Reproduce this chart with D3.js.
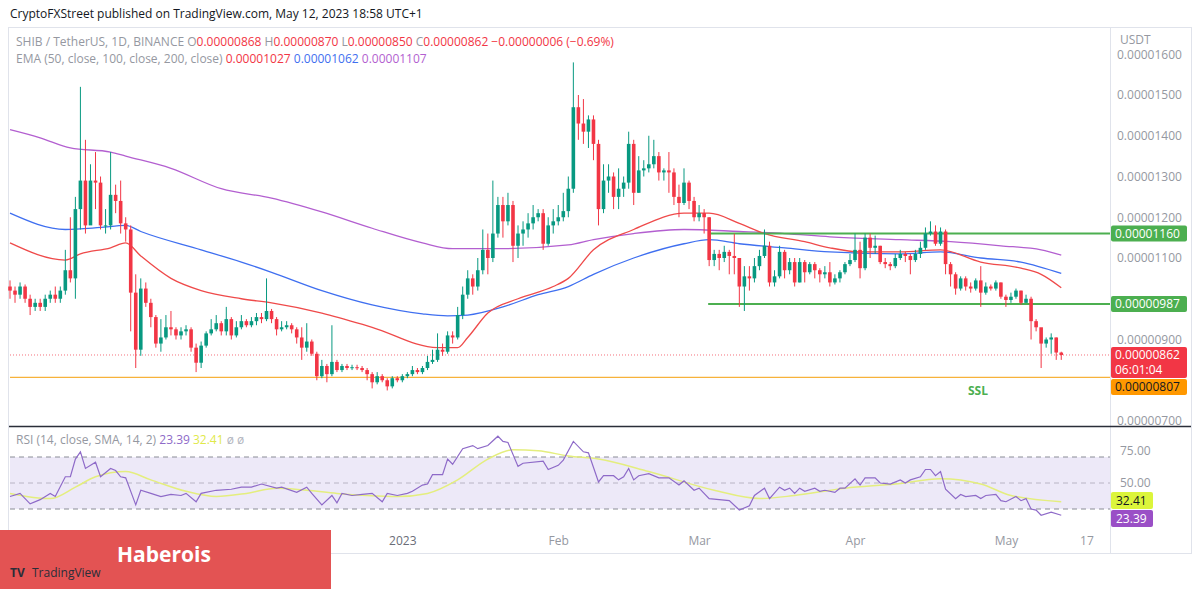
<!DOCTYPE html>
<html>
<head>
<meta charset="utf-8">
<script src="https://cdnjs.cloudflare.com/ajax/libs/d3/7.8.5/d3.min.js"></script>
<style>
  body { margin: 0; background: #fff; font-family: "Open Sans", "DejaVu Sans", sans-serif; }
  svg text { font-family: "Open Sans", "DejaVu Sans", sans-serif; }
</style>
</head>
<body>
<script>
// SHIB/USDT daily, prices in units of 0.000001 USDT, first candle 2022-10-15
var firstOpen = 10.3;
var closes = [10.2,10.1,10.3,10.0,9.8,9.9,9.8,10.0,10.1,10.0,10.2,10.7,10.5,12.2,12.9,11.8,12.9,12.85,11.8,11.8,
  12.55,12.4,11.85,11.7,10.15,8.75,10.25,9.9,9.55,8.9,9.05,9.3,9.25,9.1,9.2,9.25,8.8,8.43,8.85,9.15,
  9.25,9.4,9.2,9.5,9.1,9.3,9.45,9.35,9.45,9.55,9.5,9.7,9.5,9.25,9.3,9.35,9.25,9.05,8.8,8.95,
  8.65,8.1,8.35,8.15,8.45,8.25,8.35,8.3,8.32,8.3,8.25,8.15,7.95,8.1,8.0,7.85,8.05,8.0,8.1,8.15,
  8.25,8.2,8.3,8.45,8.5,8.75,8.7,9.1,9.05,9.6,10.1,10.5,10.3,10.7,11.2,11.0,11.6,12.3,11.9,12.3,
  11.3,11.6,11.7,11.85,12.0,12.1,11.35,11.8,11.9,12.0,12.15,12.7,14.7,14.3,14.1,14.4,13.8,12.2,12.9,13.0,
  12.5,12.7,12.85,13.8,12.6,13.15,13.2,13.3,13.5,13.1,13.15,13.1,12.5,12.35,12.85,12.4,12.0,12.1,12.0,10.95,
  11.1,11.0,11.15,11.05,11.0,10.3,10.55,10.5,10.8,11.05,11.3,10.4,10.55,11.15,10.7,10.9,10.4,10.9,10.65,10.85,
  10.7,10.6,10.65,10.4,10.5,10.65,10.85,10.95,11.2,10.75,11.5,11.25,11.3,10.9,10.85,10.8,11.0,11.1,11.05,10.95,
  11.1,11.25,11.6,11.65,11.35,11.65,10.85,10.6,10.25,10.5,10.3,10.25,10.45,10.15,10.3,10.25,10.4,10.05,9.97,10.05,
  10.2,9.9,10.0,9.45,9.3,8.9,9.0,9.05,8.68,8.62];
var highs = [10.45,10.3,10.4,10.35,10.1,10.0,10.0,10.1,10.2,10.3,10.3,11.2,12.0,12.5,15.2,13.9,13.3,13.6,13.0,12.2,
  13.6,12.8,12.9,12.0,11.8,10.6,10.5,10.4,10.0,9.6,9.5,9.6,9.7,9.3,9.3,9.35,9.3,8.9,8.95,9.2,
  9.5,9.6,9.45,9.8,9.55,9.45,9.6,9.5,9.55,9.65,9.65,10.5,9.75,9.55,9.45,9.45,9.4,9.3,9.3,9.4,
  9.0,8.7,8.5,8.4,9.35,8.5,8.4,8.4,8.38,8.38,8.35,8.3,8.2,8.2,8.15,8.05,8.1,8.1,8.15,8.2,
  8.35,8.3,8.35,8.6,8.75,9.15,8.9,9.2,9.2,9.8,10.3,10.7,10.6,11.0,11.7,11.6,12.9,12.5,12.5,12.6,
  12.4,11.8,11.9,12.1,12.3,12.2,12.2,12.0,12.2,12.3,12.6,13.0,15.8,15.0,14.9,14.5,14.5,13.9,13.3,13.3,
  13.1,13.2,13.0,14.1,13.9,13.5,13.4,14.0,13.9,13.6,13.2,13.6,13.2,12.8,13.2,12.9,12.5,12.3,12.2,12.0,
  11.2,11.2,11.3,11.2,11.6,11.0,10.8,10.8,11.0,11.2,11.7,11.4,10.7,11.3,11.2,11.0,11.0,11.0,10.95,10.9,
  10.9,10.75,10.8,10.9,10.6,10.7,10.9,11.1,11.6,11.4,11.6,11.6,11.55,11.3,11.0,10.9,11.1,11.2,11.15,11.1,
  11.2,11.4,11.75,11.9,11.8,11.75,11.7,10.9,10.65,10.55,10.55,10.4,10.5,10.8,10.4,10.35,10.45,10.4,10.1,10.15,
  10.25,10.2,10.1,10.05,9.5,9.25,9.05,9.15,9.05,8.7];
var lows = [10.0,9.9,10.0,9.9,9.6,9.7,9.7,9.7,9.9,9.9,9.9,10.1,10.4,10.0,11.7,11.6,11.9,12.2,11.7,11.6,
  11.7,12.1,11.6,11.4,9.2,8.3,8.6,9.8,9.3,8.8,8.7,9.0,9.1,9.0,9.0,9.1,8.7,8.2,8.3,8.8,
  9.1,9.2,9.1,9.1,9.0,9.05,9.25,9.3,9.3,9.35,9.4,9.45,9.4,9.1,9.2,9.25,9.15,8.9,8.5,8.7,
  8.6,8.0,8.05,7.95,8.1,8.2,8.2,8.25,8.25,8.25,8.2,8.0,7.8,7.9,7.95,7.75,7.8,7.95,7.95,8.05,
  8.1,8.15,8.15,8.25,8.4,8.45,8.6,8.65,8.9,9.0,9.5,10.0,10.1,10.2,10.6,10.6,10.9,11.5,11.5,11.8,
  10.9,11.0,11.3,11.5,11.7,11.9,11.2,11.3,11.6,11.8,11.9,12.0,12.6,13.9,13.8,13.7,13.4,11.8,12.1,12.6,
  12.2,12.2,12.5,12.7,12.3,12.6,13.0,13.1,13.2,12.9,12.9,12.6,12.3,12.0,12.3,12.2,11.9,11.9,11.6,10.8,
  10.8,10.7,10.9,10.6,10.6,9.8,9.7,10.2,10.4,10.7,11.0,10.3,10.3,10.5,10.5,10.6,10.3,10.4,10.4,10.6,
  10.5,10.4,10.5,10.3,10.35,10.4,10.6,10.8,10.9,10.5,10.7,11.0,11.1,10.85,10.75,10.7,10.75,10.95,10.9,10.6,
  10.9,11.0,11.2,11.55,11.3,11.3,10.6,10.3,10.1,10.2,10.2,10.15,10.2,9.8,10.1,10.2,10.2,10.0,9.8,9.9,
  10.0,9.85,9.9,9.0,9.2,8.3,8.8,8.65,8.5,8.5];

// EMA curves: [day index, value]
var ema50 = [[0,11.37],[11,10.95],[14,11.1],[20,11.25],[23,11.37],[26,11.05],[32,10.5],[38,10.2],[46,10.0],[52,9.9],[62,9.65],[72,9.3],[85,8.8],[89,8.8],[91,9.05],[95,9.65],[101,10.0],[108,10.3],[111,10.5],[116,11.2],[124,11.7],[134,12.1],[139,12.1],[145,11.85],[150,11.6],[158,11.4],[163,11.25],[169,11.15],[177,11.15],[185,11.2],[193,10.9],[201,10.75],[205,10.6],[209,10.27]];
var ema100 = [[0,12.1],[11,11.7],[18,11.75],[23,11.8],[26,11.65],[38,11.2],[46,10.9],[52,10.65],[62,10.2],[72,9.85],[82,9.63],[87,9.58],[91,9.6],[98,9.8],[105,10.1],[111,10.3],[116,10.6],[124,11.0],[134,11.35],[139,11.45],[145,11.35],[154,11.25],[163,11.15],[177,11.1],[185,11.15],[193,11.0],[201,10.9],[209,10.62]];
var ema200 = [[0,14.15],[6,13.95],[12,13.7],[20,13.6],[23,13.5],[32,13.2],[42,12.7],[52,12.47],[62,12.13],[72,11.73],[82,11.37],[88,11.23],[98,11.23],[111,11.32],[116,11.45],[124,11.6],[134,11.7],[145,11.65],[154,11.6],[163,11.52],[177,11.45],[187,11.4],[197,11.3],[205,11.2],[209,11.07]];

var rsi = [[0,37],[2,40],[4,30],[6,34],[8,40],[9,37],[11,56],[12,56],[13,73],[14,80],[15,64],[17,70],[18,56],[20,64],[21,62],[22,56],[23,55],[25,29],[26,43],[28,40],[30,37],[32,39],[34,38],[35,40],[37,32],[38,40],[41,43],[44,44],[46,46],[48,46],[50,49],[53,45],[54,46],[57,41],[59,46],[60,40],[62,29],[64,38],[65,31],[66,40],[68,38],[70,39],[72,40],[74,32],[75,40],[77,38],[79,40],[80,42],[82,48],[83,49],[84,58],[86,58],[87,73],[88,68],[90,83],[92,86],[93,83],[95,86],[97,95],[98,90],[99,89],[101,66],[102,69],[106,71],[107,63],[109,67],[110,72],[112,90],[114,80],[115,79],[117,51],[118,57],[120,57],[121,53],[122,56],[123,64],[124,53],[125,57],[127,59],[129,55],[131,55],[133,48],[134,52],[136,43],[137,45],[139,35],[141,34],[143,33],[145,24],[147,28],[148,38],[150,45],[151,35],[153,46],[154,43],[155,45],[156,40],[157,45],[158,42],[160,45],[161,42],[162,43],[164,41],[165,45],[166,45],[168,54],[169,48],[170,55],[172,55],[173,50],[175,49],[177,53],[178,50],[179,53],[181,56],[182,63],[183,63],[184,57],[185,61],[186,44],[188,35],[189,39],[190,37],[192,38],[193,35],[194,38],[196,39],[197,33],[198,32],[200,37],[201,33],[202,35],[203,25],[204,24],[205,19],[207,22],[209,19]];
var rsiSma = [[0,40],[8,35],[13,46],[17,56],[23,61],[28,53],[35,42],[41,37],[47,40],[53,45],[59,43],[65,40],[71,38],[77,37],[83,40],[89,53],[95,73],[100,82],[105,81],[111,76],[117,73],[127,61],[140,43],[149,35],[156,38],[166,45],[176,49],[185,54],[193,49],[199,38],[209,32]];

// ticks hidden behind price tags are left out
var priceTicks = [7, 9, 11, 12, 13, 14, 15, 16];
var rsiLevels = [75, 50, 25];
var timeTicks = [new Date(2022,10,1), new Date(2022,11,1), new Date(2023,0,1), new Date(2023,1,1),
  new Date(2023,2,1), new Date(2023,3,1), new Date(2023,4,1), new Date(2023,4,17)];
var resistance = 11.60, support = 9.87, ssl = 8.07, lastPrice = 8.62;

var W = 1200, H = 589;
var up = "#089981", down = "#f23645";
var start = new Date(2022,9,15);

var svg = d3.select("body").append("svg").attr("width", W).attr("height", H);

var x = d3.scaleTime().domain([start, d3.timeDay.offset(start, 214)]).range([10, 1086.4]);
var y = d3.scaleLinear().domain([7, 15]).range([421, 95]);
var yr = d3.scaleLinear().domain([0, 100]).range([535, 431]);
var dx = function(i) { return x(d3.timeDay.offset(start, i)); };
var fmt = function(v) { return (v * 1e-6).toFixed(8); };

// title + frame
svg.append("text").attr("x", 10).attr("y", 18).attr("font-size", 12).attr("fill", "#131722")
  .text("CryptoFXStreet published on TradingView.com, May 12, 2023 18:58 UTC+1");
svg.append("rect").attr("x", 8.5).attr("y", 27.5).attr("width", 1183).attr("height", 526)
  .attr("fill", "none").attr("stroke", "#e0e3eb");
svg.append("line").attr("x1", 1110.5).attr("x2", 1110.5).attr("y1", 28).attr("y2", 553).attr("stroke", "#e0e3eb");
svg.append("line").attr("x1", 9).attr("x2", 1191).attr("y1", 426.5).attr("y2", 426.5).attr("stroke", "#2a2e39").attr("stroke-width", 1.5);

// price axis
var pa = svg.append("g").attr("transform", "translate(1117,0)")
  .call(d3.axisRight(y).tickValues(priceTicks).tickFormat(fmt).tickSize(0));
pa.select(".domain").remove();
pa.selectAll("text").attr("x", 0).attr("font-size", 12).attr("fill", "#9598a1");
svg.append("rect").attr("x", 1112).attr("y", 28).attr("width", 78).attr("height", 22).attr("fill", "#fff");
svg.append("text").attr("x", 1120).attr("y", 44).attr("font-size", 12).attr("fill", "#9598a1").text("USDT");

// EMAs
var lineOf = function(sc) {
  return d3.line().x(function(d) { return dx(d[0]); }).y(function(d) { return sc(d[1]); }).curve(d3.curveMonotoneX);
};
[[ema200, "#b35fd0"], [ema100, "#3f6ff0"], [ema50, "#ef4a4a"]].forEach(function(e) {
  svg.append("path").datum(e[0]).attr("d", lineOf(y)).attr("fill", "none").attr("stroke", e[1]).attr("stroke-width", 1.3);
});

// levels
svg.append("line").attr("x1", 10).attr("x2", 1110).attr("y1", y(lastPrice)).attr("y2", y(lastPrice))
  .attr("stroke", down).attr("stroke-dasharray", "1,2").attr("opacity", 0.7);
svg.append("line").attr("x1", 10).attr("x2", 1110).attr("y1", y(ssl)).attr("y2", y(ssl)).attr("stroke", "#f7b23b").attr("stroke-width", 1.3);
[resistance, support].forEach(function(v) {
  svg.append("line").attr("x1", dx(139) - 1).attr("x2", 1110).attr("y1", y(v)).attr("y2", y(v))
    .attr("stroke", "#4caf50").attr("stroke-width", 2);
});
svg.append("text").attr("x", 978).attr("y", 395).attr("text-anchor", "middle").attr("font-size", 12)
  .attr("font-weight", "bold").attr("fill", "#4caf50").text("SSL");

// candles
var candles = closes.map(function(c, i) {
  return { i: i, o: i ? closes[i - 1] : firstOpen, c: c, h: highs[i], l: lows[i] };
});
var cg = svg.append("g").selectAll("g").data(candles).enter().append("g");
cg.append("line").attr("x1", function(d) { return dx(d.i); }).attr("x2", function(d) { return dx(d.i); })
  .attr("y1", function(d) { return y(d.h); }).attr("y2", function(d) { return y(d.l); })
  .attr("stroke", function(d) { return d.c >= d.o ? up : down; });
cg.append("rect").attr("x", function(d) { return dx(d.i) - 1.8; }).attr("width", 3.6)
  .attr("y", function(d) { return y(Math.max(d.o, d.c)); })
  .attr("height", function(d) { return Math.max(1, Math.abs(y(d.o) - y(d.c))); })
  .attr("fill", function(d) { return d.c >= d.o ? up : down; });

// price tags
function tag(v, yy, bg, fg, h, t2) {
  svg.append("rect").attr("x", 1111).attr("y", yy).attr("width", 76).attr("height", h).attr("rx", 2).attr("fill", bg);
  svg.append("text").attr("x", 1115).attr("y", yy + 12).attr("font-size", 12).attr("fill", fg).text(fmt(v));
  if (t2) svg.append("text").attr("x", 1115).attr("y", yy + 27).attr("font-size", 12).attr("fill", fg).text(t2);
}
tag(resistance, y(resistance) - 8, "#4caf50", "#fff", 16);
tag(support, y(support) - 8, "#4caf50", "#fff", 16);
tag(lastPrice, y(lastPrice) - 8, down, "#fff", 31, "06:01:04");
tag(ssl, y(lastPrice) + 24, "#ff9800", "#131722", 16);

// legend
var l1 = svg.append("text").attr("x", 16).attr("y", 46).attr("font-size", 12);
l1.append("tspan").attr("fill", "#9598a1").text("SHIB / TetherUS, 1D, BINANCE  O");
l1.append("tspan").attr("fill", down).text("0.00000868");
l1.append("tspan").attr("fill", "#9598a1").text("  H");
l1.append("tspan").attr("fill", down).text("0.00000870");
l1.append("tspan").attr("fill", "#9598a1").text("  L");
l1.append("tspan").attr("fill", down).text("0.00000850");
l1.append("tspan").attr("fill", "#9598a1").text("  C");
l1.append("tspan").attr("fill", down).text("0.00000862  \u22120.00000006 (\u22120.69%)");
var l2 = svg.append("text").attr("x", 16).attr("y", 63).attr("font-size", 12);
l2.append("tspan").attr("fill", "#9598a1").text("EMA (50, close, 100, close, 200, close)  ");
l2.append("tspan").attr("fill", down).text(fmt(ema50[ema50.length - 1][1]) + "  ");
l2.append("tspan").attr("fill", "#3f6ff0").text(fmt(ema100[ema100.length - 1][1]) + "  ");
l2.append("tspan").attr("fill", "#b35fd0").text(fmt(ema200[ema200.length - 1][1]));

// RSI pane
svg.append("rect").attr("x", 10).attr("width", 1100).attr("y", yr(75)).attr("height", yr(25) - yr(75)).attr("fill", "#ede9f8");
rsiLevels.forEach(function(v) {
  svg.append("line").attr("x1", 10).attr("x2", 1110).attr("y1", yr(v)).attr("y2", yr(v))
    .attr("stroke", v === 50 ? "#b8b4c4" : "#8a8d96").attr("stroke-dasharray", "5,4");
});
var ra = svg.append("g").attr("transform", "translate(1120,0)")
  .call(d3.axisRight(yr).tickValues([75, 50]).tickFormat(function(v) { return v.toFixed(2); }).tickSize(0));
ra.select(".domain").remove();
ra.selectAll("text").attr("x", 0).attr("font-size", 12).attr("fill", "#9598a1")
  .attr("dy", function(d) { return d === 75 ? "-0.2em" : "0.32em"; });
svg.append("path").datum(rsiSma).attr("d", lineOf(yr)).attr("fill", "none").attr("stroke", "#e4ee7e").attr("stroke-width", 1.5);
svg.append("path").datum(rsi).attr("d", d3.line().x(function(d) { return dx(d[0]); }).y(function(d) { return yr(d[1]); }))
  .attr("fill", "none").attr("stroke", "#8e6ac8").attr("stroke-width", 1.2);
var l3 = svg.append("text").attr("x", 16).attr("y", 444).attr("font-size", 12);
l3.append("tspan").attr("fill", "#9598a1").text("RSI (14, close, SMA, 14, 2)  ");
l3.append("tspan").attr("fill", "#8e6ac8").text("23.39  ");
l3.append("tspan").attr("fill", "#dfe94a").text("32.41  ");
l3.append("tspan").attr("fill", "#b2b5be").text("\u00f8  \u00f8");
svg.append("rect").attr("x", 1111).attr("y", 492).attr("width", 42).attr("height", 17).attr("rx", 2).attr("fill", "#dcf53b");
svg.append("text").attr("x", 1116).attr("y", 505).attr("font-size", 12).attr("fill", "#131722").text("32.41");
svg.append("rect").attr("x", 1111).attr("y", 510).attr("width", 42).attr("height", 17).attr("rx", 2).attr("fill", "#9a4fc6");
svg.append("text").attr("x", 1116).attr("y", 523).attr("font-size", 12).attr("fill", "#fff").text("23.39");

// time axis
var ta = svg.append("g").attr("transform", "translate(0,533)")
  .call(d3.axisBottom(x).tickValues(timeTicks).tickSize(0).tickFormat(function(d) {
    if (d.getMonth() === 0) return "2023";
    if (d.getDate() !== 1) return String(d.getDate());
    return d3.timeFormat("%b")(d);
  }));
ta.select(".domain").remove();
ta.selectAll("text").attr("font-size", 12).attr("fill", function(d) { return d.getMonth() === 0 ? "#6a6d78" : "#9598a1"; });

// watermark / badge
svg.append("rect").attr("x", 0).attr("y", 530).attr("width", 331).attr("height", 59).attr("fill", "#e35353");
svg.append("text").attr("x", 117).attr("y", 562).attr("font-size", 21).attr("font-weight", "bold")
  .attr("fill", "#fff").attr("font-family", "Roboto, sans-serif").text("Haberois");
svg.append("text").attr("x", 10).attr("y", 577).attr("font-size", 12).attr("font-weight", "bold").attr("fill", "#2a2e39").text("TV");
svg.append("text").attr("x", 32).attr("y", 577).attr("font-size", 12).attr("fill", "#2a2e39").text("TradingView");
</script>
</body>
</html>
